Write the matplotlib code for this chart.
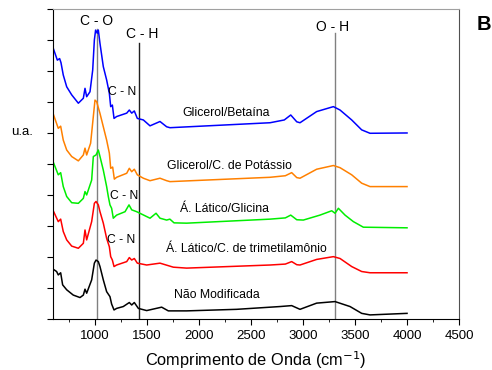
import matplotlib
matplotlib.use('Agg')
import matplotlib.pyplot as plt
from matplotlib.ticker import MultipleLocator, NullFormatter

plt.rcParams['font.family'] = ['Liberation Sans', 'DejaVu Sans']

# spectra (wavenumber in cm-1, intensity in stacked a.u.)
x_gb = [600, 638, 660, 673, 695, 728, 776, 840, 888, 904, 920, 952, 978, 994, 1006, 1022,
        1032, 1048, 1080, 1112, 1138, 1151, 1167, 1183, 1208, 1305, 1330, 1353, 1378, 1407,
        1465, 1529, 1625, 1689, 1721, 2683, 2820, 2882, 2940, 2971, 3131, 3292, 3356, 3468,
        3564, 3644, 4000]
y_gb = [8.72, 8.35, 8.40, 8.27, 7.87, 7.49, 7.23, 6.96, 7.12, 7.44, 7.17, 7.33, 8.03, 9.00,
        9.32, 9.22, 9.32, 8.89, 8.14, 7.71, 7.28, 6.85, 6.90, 6.47, 6.53, 6.64, 6.74, 6.64,
        6.71, 6.47, 6.42, 6.23, 6.37, 6.20, 6.17, 6.33, 6.42, 6.58, 6.36, 6.33, 6.69, 6.85,
        6.74, 6.42, 6.10, 5.99, 6.00]

x_gk = [600, 647, 670, 695, 728, 776, 840, 888, 904, 920, 958, 984, 1000, 1016, 1048, 1080,
        1112, 1138, 1151, 1170, 1186, 1208, 1305, 1330, 1353, 1378, 1407, 1465, 1529, 1625,
        1689, 1721, 2683, 2830, 2891, 2940, 2971, 3131, 3292, 3356, 3468, 3564, 3644, 4000]
y_gk = [6.60, 6.15, 6.22, 5.77, 5.45, 5.24, 5.10, 5.29, 5.51, 5.29, 5.67, 6.53, 7.06, 7.01,
        6.63, 6.20, 5.77, 5.35, 4.86, 4.90, 4.51, 4.57, 4.70, 4.86, 4.75, 4.83, 4.65, 4.54,
        4.46, 4.54, 4.46, 4.43, 4.57, 4.62, 4.72, 4.56, 4.54, 4.83, 4.95, 4.88, 4.65, 4.38,
        4.27, 4.27]

x_lg = [600, 647, 670, 695, 728, 776, 840, 888, 904, 920, 968, 984, 1010, 1032, 1048, 1080,
        1112, 1128, 1144, 1160, 1176, 1208, 1289, 1327, 1353, 1401, 1529, 1587, 1625, 1689,
        1720, 1760, 1881, 2683, 2830, 2882, 2940, 3003, 3163, 3276, 3308, 3340, 3404, 3484,
        3580, 4000]
y_lg = [5.05, 4.65, 4.72, 4.27, 3.95, 3.75, 3.73, 3.89, 4.11, 4.00, 4.48, 5.24, 5.29, 5.45,
        5.24, 4.80, 4.27, 3.95, 3.68, 3.57, 3.25, 3.35, 3.46, 3.68, 3.52, 3.46, 3.25, 3.41,
        3.25, 3.19, 3.22, 3.10, 3.09, 3.22, 3.26, 3.35, 3.20, 3.19, 3.35, 3.49, 3.41, 3.57,
        3.35, 3.14, 2.96, 2.94]

x_lt = [600, 647, 670, 695, 728, 776, 840, 888, 904, 920, 968, 994, 1010, 1032, 1048, 1080,
        1112, 1138, 1151, 1167, 1183, 1208, 1305, 1330, 1353, 1378, 1407, 1497, 1625, 1753,
        1881, 2683, 2830, 2891, 2940, 2971, 3131, 3292, 3356, 3468, 3564, 3644, 4000]
y_lt = [3.48, 3.14, 3.22, 2.82, 2.55, 2.35, 2.28, 2.44, 2.87, 2.55, 3.14, 3.73, 3.79, 3.68,
        3.46, 3.09, 2.60, 2.33, 2.01, 1.90, 1.69, 1.74, 1.85, 1.98, 1.90, 1.95, 1.80, 1.74,
        1.80, 1.67, 1.64, 1.74, 1.77, 1.85, 1.75, 1.74, 1.92, 2.01, 1.95, 1.69, 1.53, 1.49,
        1.49]

x_nm = [600, 631, 647, 670, 689, 728, 791, 856, 888, 904, 920, 968, 994, 1010, 1032, 1048,
        1080, 1112, 1144, 1160, 1183, 1208, 1272, 1330, 1353, 1378, 1417, 1497, 1641, 1705,
        1881, 2362, 2779, 2891, 2971, 3131, 3308, 3452, 3564, 3644, 4000]
y_nm = [1.60, 1.53, 1.42, 1.49, 1.10, 0.94, 0.77, 0.69, 0.77, 0.96, 0.83, 1.26, 1.80, 1.90,
        1.85, 1.69, 1.26, 0.88, 0.72, 0.48, 0.29, 0.34, 0.40, 0.53, 0.45, 0.53, 0.34, 0.27,
        0.38, 0.26, 0.26, 0.31, 0.40, 0.43, 0.31, 0.51, 0.56, 0.40, 0.18, 0.13, 0.18]

names = ['Glicerol/Betaína', 'Glicerol/C. de Potássio', 'Á. Lático/Glicina',
         'Á. Lático/C. de trimetilamônio', 'Não Modificada']
colors = ['#0000ff', '#ff8000', '#00ee00', '#ff0000', '#000000']
name_pos = [(2260, 6.64), (2293, 4.94), (2245, 3.54), (2452, 2.25), (2173, 0.77)]

# band markers: label, wavenumber, top of line, line colour
bands = [('C - O', 1015, 9.35, '#808080'), ('C - H', 1420, 8.9, '#202020'),
         ('O - H', 3305, 9.22, '#808080')]
band_text = [(1019, 9.61), (1452, 9.19), (3288, 9.42)]
cn_pos = [(1264, 7.32), (1279, 3.97), (1250, 2.55)]

fig = plt.figure(figsize=(4.92, 3.70), dpi=100)
ax = fig.add_axes([0.1085, 0.138, 0.8245, 0.8377])

series = [(x_gb, y_gb), (x_gk, y_gk), (x_lg, y_lg), (x_lt, y_lt), (x_nm, y_nm)]
for (xs, ys), c in zip(series, colors):
    ax.plot(xs, ys, color=c, lw=1.1)

for (lab, xv, top, c), (tx, ty) in zip(bands, band_text):
    ax.plot([xv, xv], [0, top], color=c, lw=1.0, zorder=0)
    ax.text(tx, ty, lab, ha='center', va='center', fontsize=10)

for tx, ty in cn_pos:
    ax.text(tx, ty, 'C - N', ha='center', va='center', fontsize=8.7)

for n, (tx, ty) in zip(names, name_pos):
    ax.text(tx, ty, n, ha='center', va='center', fontsize=8.8)

ax.set_xlim(600, 4500)
ax.set_ylim(0, 10)
ax.xaxis.set_major_locator(MultipleLocator(500))
ax.xaxis.set_minor_locator(MultipleLocator(250))
ax.set_xticks([1000, 1500, 2000, 2500, 3000, 3500, 4000, 4500])
ax.yaxis.set_major_locator(MultipleLocator(1))
ax.yaxis.set_major_formatter(NullFormatter())
ax.tick_params(axis='x', which='major', length=4, labelsize=9.5, pad=4)
ax.tick_params(axis='x', which='minor', length=2.5)
ax.tick_params(axis='y', length=4.5)
ax.spines['top'].set_color('#a0a0a0')
ax.spines['right'].set_color('#505050')
ax.set_xlabel('Comprimento de Onda (cm$^{-1}$)', fontsize=11.8, labelpad=5)

fig.text(22 / 492, 1 - 132 / 370, 'u.a.', ha='center', va='center', fontsize=9.5)
fig.text(483.5 / 492, 1 - 25 / 370, 'B', ha='center', va='center', fontsize=14.5,
         fontweight='bold')

fig.savefig('out.png', dpi=100)
